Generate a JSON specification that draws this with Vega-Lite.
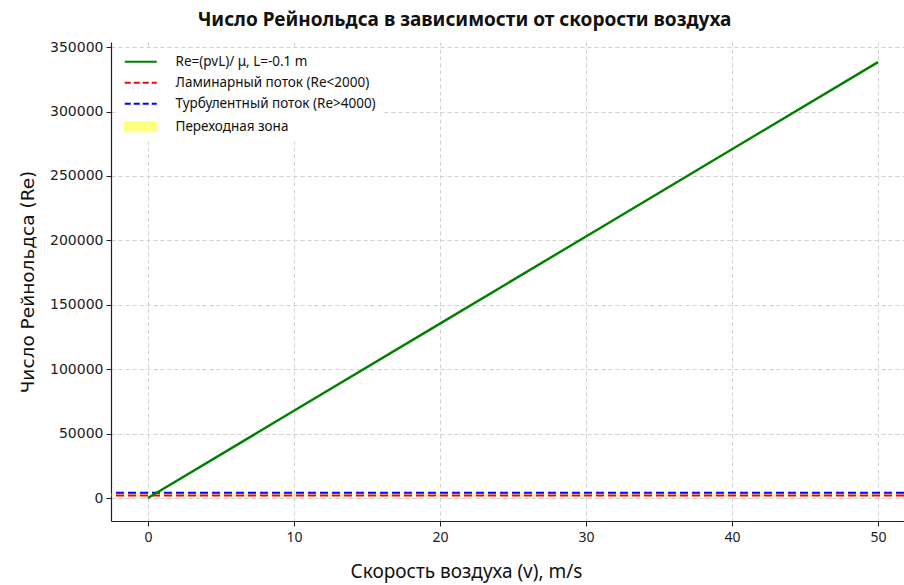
{
  "$schema": "https://vega.github.io/schema/vega-lite/v6.json",
  "width": 793,
  "height": 479,
  "autosize": {"type": "none"},
  "padding": {"left": 111, "top": 42, "right": 0, "bottom": 64},
  "background": "white",
  "title": {
    "text": "Число Рейнольдса в зависимости от скорости воздуха",
    "font": "Noto Sans",
    "fontSize": 19,
    "fontWeight": "bold",
    "color": "#111111",
    "anchor": "middle",
    "dx": -43,
    "offset": 10
  },
  "config": {
    "view": {"stroke": null},
    "axis": {
      "domainColor": "#222222",
      "domainWidth": 1.2,
      "tickColor": "#222222",
      "tickSize": 5,
      "gridColor": "#cccccc",
      "gridDash": [4, 3],
      "gridWidth": 0.9,
      "labelColor": "#222222",
      "titleColor": "#111111",
      "titleFontWeight": "normal"
    }
  },
  "datasets": {
    "re_curve": [
      {"v": 0, "Re": 0, "series": "Re=(pvL)/ μ, L=-0.1 m"},
      {"v": 10, "Re": 67680, "series": "Re=(pvL)/ μ, L=-0.1 m"},
      {"v": 20, "Re": 135360, "series": "Re=(pvL)/ μ, L=-0.1 m"},
      {"v": 30, "Re": 203040, "series": "Re=(pvL)/ μ, L=-0.1 m"},
      {"v": 40, "Re": 270720, "series": "Re=(pvL)/ μ, L=-0.1 m"},
      {"v": 50, "Re": 338400, "series": "Re=(pvL)/ μ, L=-0.1 m"}
    ],
    "limits": [
      {"Re": 2000, "series": "Ламинарный поток (Re<2000)"},
      {"Re": 4000, "series": "Турбулентный поток (Re>4000)"}
    ],
    "zone": [
      {"lo": 2000, "hi": 4000, "series": "Переходная зона"}
    ],
    "frame": [
      {"Re": 354000}
    ]
  },
  "encoding": {
    "x": {
      "type": "quantitative",
      "scale": {"domain": [-2.53, 51.78], "nice": false, "zero": false},
      "axis": {
        "values": [0, 10, 20, 30, 40, 50],
        "title": "Скорость воздуха (v), m/s",
        "titleFont": "Noto Sans",
        "titleFontSize": 19,
        "titleX": 355,
        "titlePadding": 18,
        "labelFont": "Noto Sans",
        "labelFontSize": 14,
        "labelPadding": 4
      }
    },
    "y": {
      "type": "quantitative",
      "scale": {"domain": [-17850, 354000], "nice": false, "zero": false},
      "axis": {
        "values": [0, 50000, 100000, 150000, 200000, 250000, 300000, 350000],
        "format": "d",
        "title": "Число Рейнольдса (Re)",
        "titleFont": "DejaVu Sans",
        "titleFontSize": 18.5,
        "titlePadding": 12,
        "labelFont": "DejaVu Sans",
        "labelFontSize": 14,
        "labelPadding": 3
      }
    },
    "color": {
      "field": "series",
      "type": "nominal",
      "scale": {
        "domain": ["Re=(pvL)/ μ, L=-0.1 m", "Ламинарный поток (Re<2000)", "Турбулентный поток (Re>4000)", "Переходная зона"],
        "range": ["#008000", "#ff0000", "#0000ff", "#ffff80"]
      },
      "legend": {
        "title": null,
        "orient": "none",
        "legendX": 6,
        "legendY": 7,
        "fillColor": "white",
        "padding": 6,
        "symbolType": "M-3.2,0H3.2",
        "symbolSize": 100,
        "symbolOffset": 11,
        "labelOffset": 28,
        "rowPadding": 6,
        "labelFont": "Noto Sans",
        "labelFontSize": 13.5,
        "labelColor": "#111111",
        "labelLimit": 400,
        "encode": {
          "symbols": {
            "update": {
              "shape": {"signal": "datum.value === 'Переходная зона' ? 'M-3.2,-0.9H3.2V0.9H-3.2Z' : 'M-3.2,0H3.2'"},
              "fill": {"signal": "datum.value === 'Переходная зона' ? '#ffffb8' : 'transparent'"},
              "stroke": {"signal": "datum.value === 'Переходная зона' ? 'transparent' : scale('color', datum.value)"},
              "opacity": {"value": 1},
              "strokeWidth": {"value": 2.2},
              "strokeDash": {"signal": "datum.value === 'Ламинарный поток (Re<2000)' || datum.value === 'Турбулентный поток (Re>4000)' ? [6, 3] : [1, 0]"}
            }
          }
        }
      }
    }
  },
  "layer": [
    {
      "data": {"name": "zone"},
      "mark": {"type": "rect", "opacity": 0.6},
      "encoding": {
        "y": {"field": "lo"},
        "y2": {"field": "hi"}
      }
    },
    {
      "data": {"name": "limits"},
      "mark": {"type": "rule", "strokeWidth": 2, "strokeDash": [8, 4]},
      "encoding": {
        "y": {"field": "Re"}
      }
    },
    {
      "data": {"name": "re_curve"},
      "mark": {"type": "line", "strokeWidth": 2.4},
      "encoding": {
        "x": {"field": "v"},
        "y": {"field": "Re"}
      }
    },
    {
      "data": {"name": "frame"},
      "mark": {"type": "rule", "color": "#222222", "strokeWidth": 1.2},
      "encoding": {
        "y": {"field": "Re"}
      }
    }
  ]
}
